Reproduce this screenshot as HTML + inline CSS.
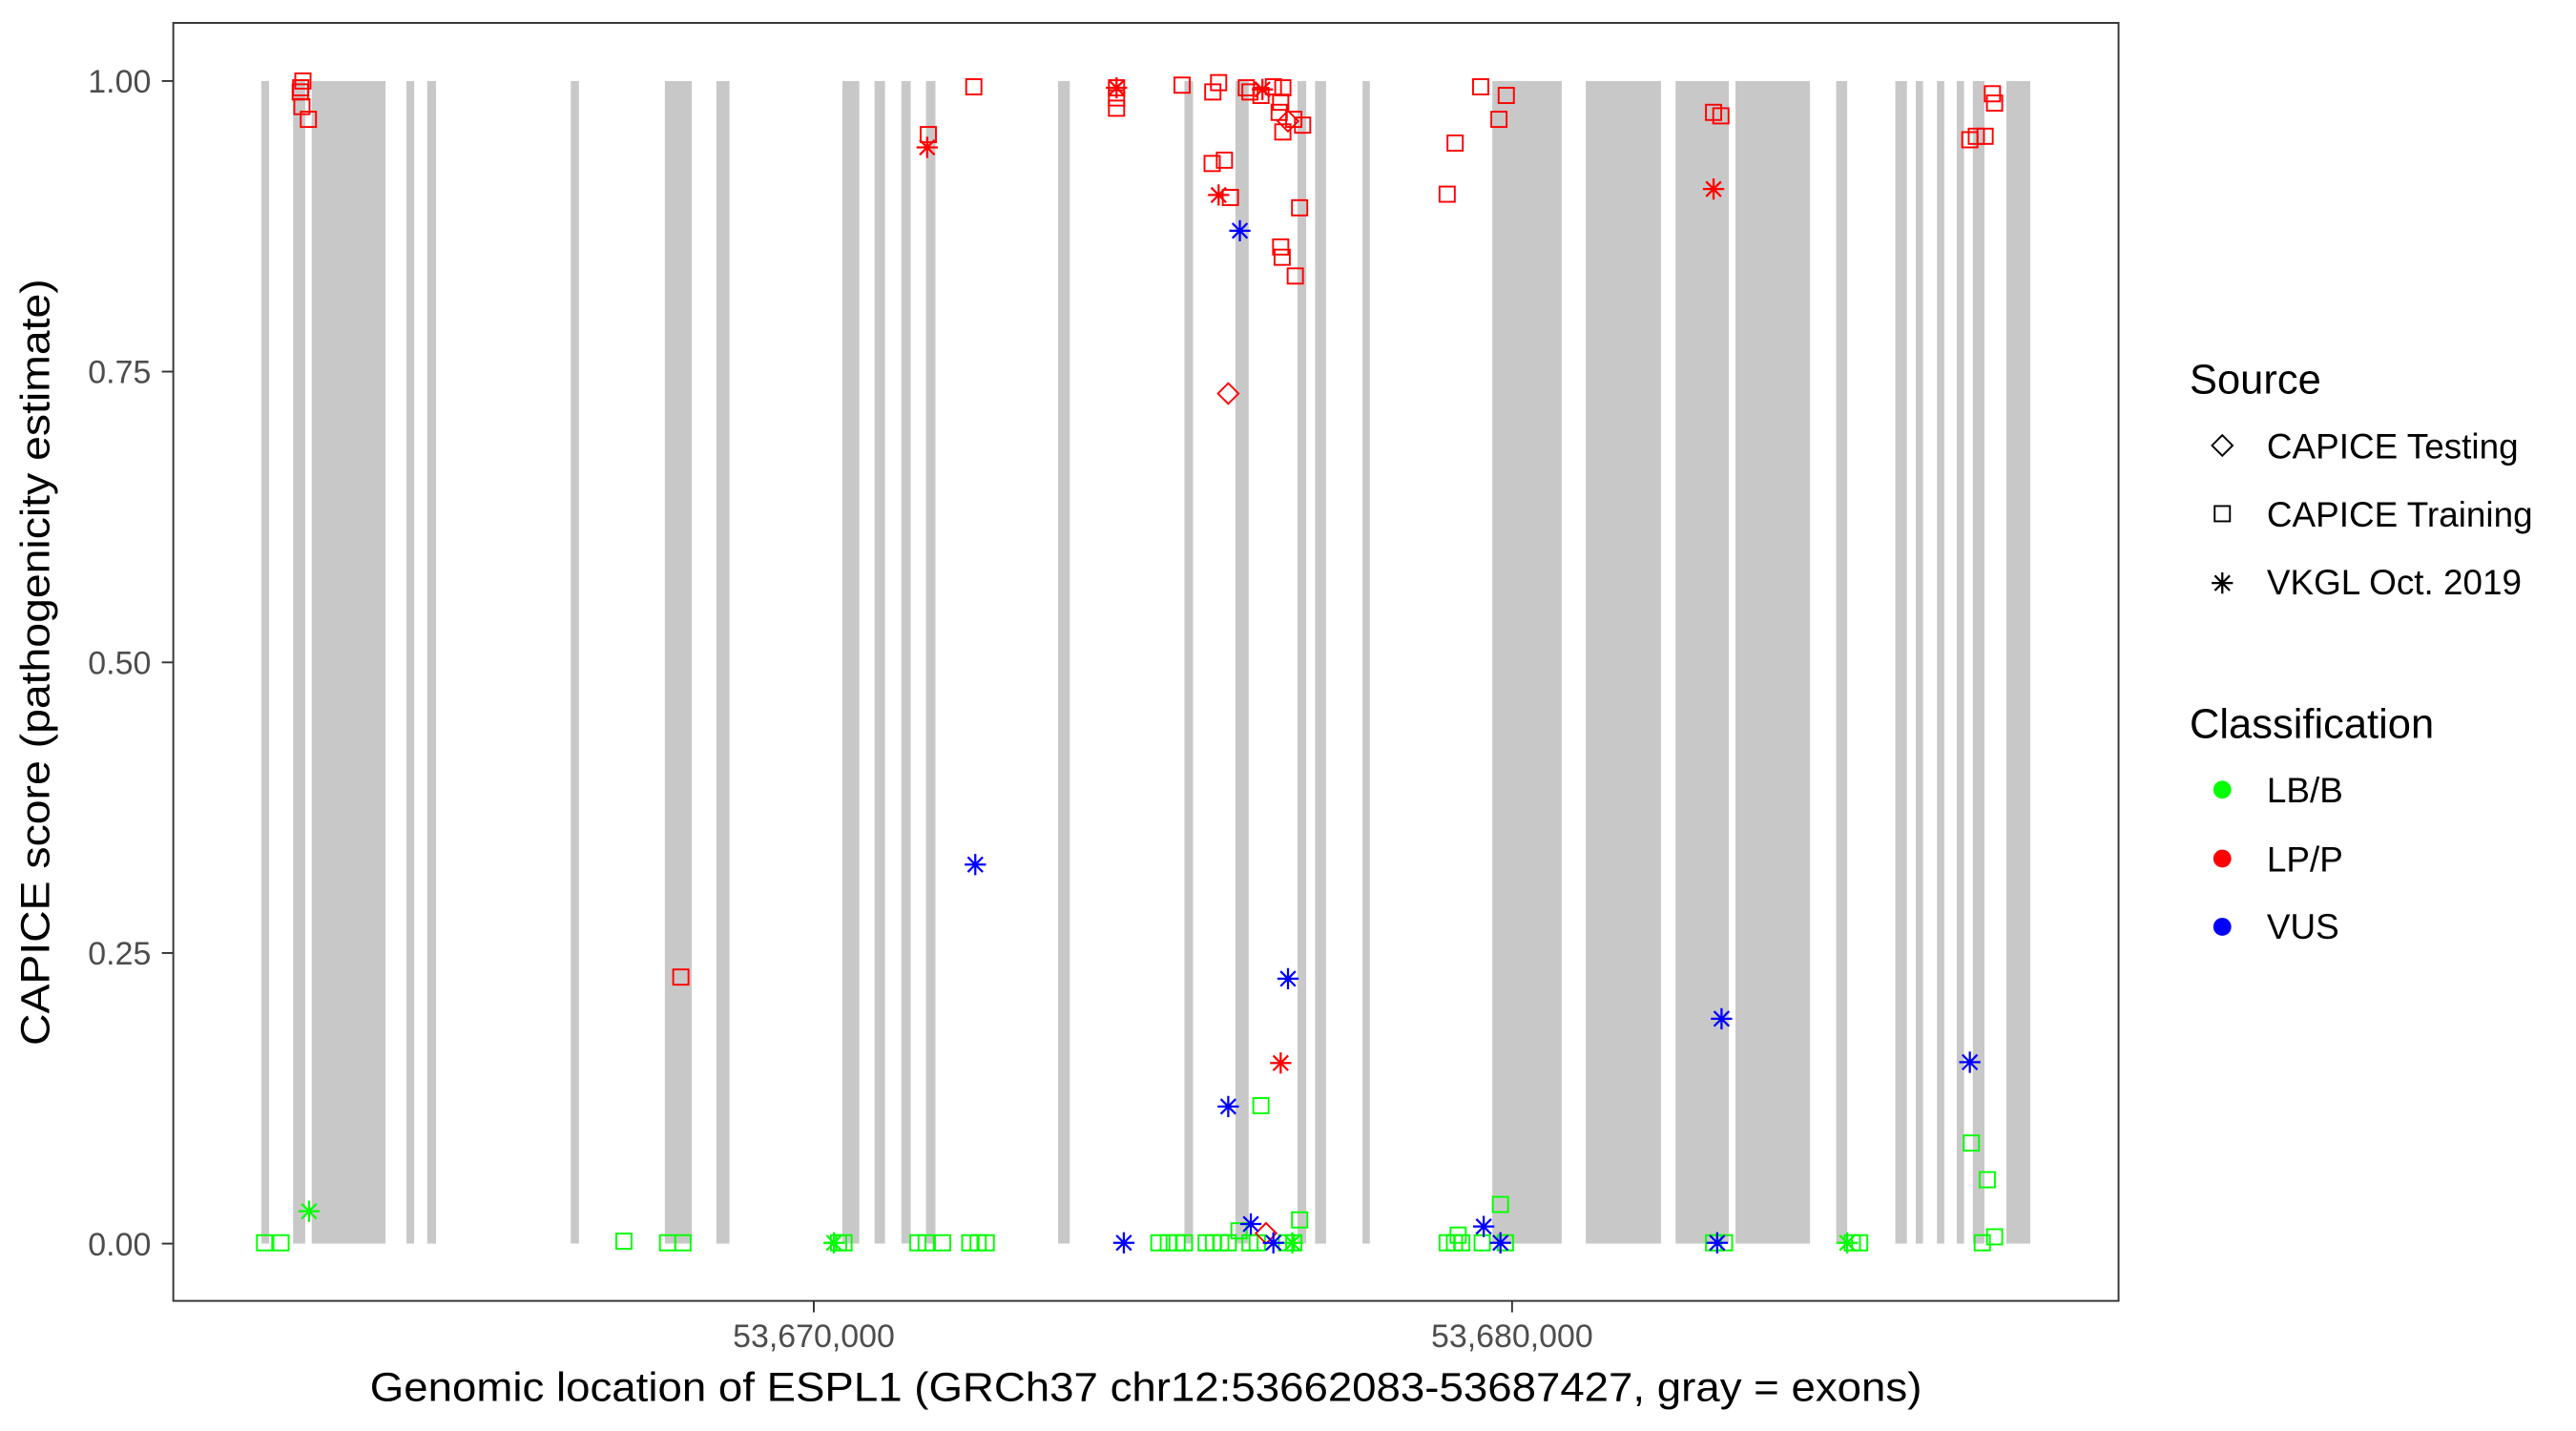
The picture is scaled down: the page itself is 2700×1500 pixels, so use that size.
<!DOCTYPE html>
<html><head><meta charset="utf-8"><style>
html,body{margin:0;padding:0;background:#fff}
svg{display:block}
text{font-family:"Liberation Sans",Arial,sans-serif}
</style></head><body>
<svg width="2700" height="1500" viewBox="0 0 1552 862.2" preserveAspectRatio="none" xmlns="http://www.w3.org/2000/svg">
<defs>
<rect id="s" x="-4.6" y="-4.6" width="9.2" height="9.2" fill="none" stroke-width="1.1"/>
<path id="a" d="M-6.4,0H6.4M0,-6.4V6.4M-4.5,-4.5L4.5,4.5M-4.5,4.5L4.5,-4.5" fill="none" stroke-width="1.3"/>
<polygon id="d" points="0,-6.2 6.2,0 0,6.2 -6.2,0" fill="none" stroke-width="1.1"/>
</defs>
<rect x="0" y="0" width="1552" height="862.2" fill="#fff"/>
<g fill="#C8C8C8">
<rect x="157.5" y="48.8" width="4.6" height="700.5"/>
<rect x="176.6" y="48.8" width="7.3" height="700.5"/>
<rect x="187.8" y="48.8" width="44.5" height="700.5"/>
<rect x="244.9" y="48.8" width="4.6" height="700.5"/>
<rect x="257.4" y="48.8" width="5.3" height="700.5"/>
<rect x="343.9" y="48.8" width="4.9" height="700.5"/>
<rect x="400.6" y="48.8" width="16.2" height="700.5"/>
<rect x="431.6" y="48.8" width="7.9" height="700.5"/>
<rect x="507.5" y="48.8" width="10.2" height="700.5"/>
<rect x="526.9" y="48.8" width="6.3" height="700.5"/>
<rect x="543.1" y="48.8" width="5.6" height="700.5"/>
<rect x="557.9" y="48.8" width="5.7" height="700.5"/>
<rect x="637.5" y="48.8" width="7" height="700.5"/>
<rect x="713.6" y="48.8" width="5.2" height="700.5"/>
<rect x="744.3" y="48.8" width="8" height="700.5"/>
<rect x="781.7" y="48.8" width="5.3" height="700.5"/>
<rect x="792.3" y="48.8" width="6.6" height="700.5"/>
<rect x="820.9" y="48.8" width="4.4" height="700.5"/>
<rect x="899.1" y="48.8" width="41.8" height="700.5"/>
<rect x="955.4" y="48.8" width="45.3" height="700.5"/>
<rect x="1009.5" y="48.8" width="32.1" height="700.5"/>
<rect x="1045.6" y="48.8" width="44.9" height="700.5"/>
<rect x="1106.3" y="48.8" width="6.6" height="700.5"/>
<rect x="1141.9" y="48.8" width="7" height="700.5"/>
<rect x="1154.2" y="48.8" width="4.4" height="700.5"/>
<rect x="1167" y="48.8" width="4.4" height="700.5"/>
<rect x="1178.9" y="48.8" width="4.4" height="700.5"/>
<rect x="1188.6" y="48.8" width="7" height="700.5"/>
<rect x="1208.8" y="48.8" width="14.4" height="700.5"/>
</g>
<g stroke="#00FF00">
<use href="#s" x="159.4" y="748.8"/><use href="#s" x="169.3" y="748.8"/>
<use href="#a" x="186.2" y="729.8"/>
<use href="#s" x="375.9" y="747.8"/><use href="#s" x="402.2" y="748.8"/><use href="#s" x="411.5" y="748.8"/>
<use href="#a" x="502.5" y="748.8"/><use href="#s" x="505.2" y="748.8"/><use href="#s" x="508.5" y="748.8"/>
<use href="#s" x="553" y="748.8"/><use href="#s" x="558" y="748.8"/><use href="#s" x="567.9" y="748.8"/>
<use href="#s" x="584.3" y="748.8"/><use href="#s" x="589.3" y="748.8"/><use href="#s" x="594.2" y="748.8"/>
<use href="#s" x="759.7" y="666.2"/>
<use href="#s" x="1187.7" y="688.7"/><use href="#s" x="1197.3" y="710.8"/><use href="#s" x="1194.3" y="748.8"/><use href="#s" x="1201.7" y="745.2"/>
<use href="#s" x="698.2" y="748.8"/><use href="#s" x="703.9" y="748.8"/><use href="#s" x="709.2" y="748.8"/><use href="#s" x="713.6" y="748.8"/>
<use href="#s" x="726.7" y="748.8"/><use href="#s" x="731.1" y="748.8"/><use href="#s" x="735.5" y="748.8"/><use href="#s" x="740" y="748.8"/>
<use href="#s" x="783" y="735"/><use href="#s" x="746.5" y="741.6"/>
<use href="#s" x="753.1" y="748.8"/><use href="#s" x="757.5" y="748.8"/><use href="#s" x="775.1" y="748.8"/><use href="#s" x="779.5" y="748.8"/><use href="#a" x="778.6" y="748.8"/>
<use href="#s" x="871.9" y="748.8"/><use href="#s" x="876.3" y="748.8"/><use href="#s" x="880.7" y="748.8"/><use href="#s" x="878.5" y="744.2"/>
<use href="#s" x="904" y="725.7"/><use href="#s" x="893" y="748.8"/><use href="#s" x="907" y="748.8"/>
<use href="#s" x="1032.4" y="748.8"/><use href="#s" x="1039" y="748.8"/>
<use href="#a" x="1112.9" y="748.8"/><use href="#s" x="1116" y="748.8"/><use href="#s" x="1120.4" y="748.8"/>
</g>
<g stroke="#FF0000">
<use href="#s" x="182.5" y="48.8"/><use href="#s" x="181.2" y="52.9"/><use href="#s" x="180.9" y="55.4"/><use href="#s" x="181.9" y="64.2"/><use href="#s" x="185.8" y="71.9"/>
<use href="#s" x="410.2" y="588.7"/>
<use href="#s" x="559.3" y="81.1"/><use href="#a" x="558.6" y="88.8"/>
<use href="#s" x="586.7" y="52.3"/>
<use href="#a" x="672.7" y="52.9"/><use href="#s" x="672.7" y="52.9"/><use href="#s" x="672.7" y="59"/><use href="#s" x="672.7" y="65.2"/>
<use href="#s" x="712.2" y="51.3"/><use href="#s" x="734.2" y="49.8"/><use href="#s" x="730.7" y="55.4"/>
<use href="#s" x="750.9" y="52.9"/><use href="#s" x="753.1" y="55.4"/><use href="#a" x="760.6" y="53.9"/>
<use href="#s" x="767.2" y="52.3"/><use href="#s" x="772.9" y="52.9"/><use href="#s" x="759.7" y="57.5"/>
<use href="#s" x="771.6" y="61.6"/><use href="#s" x="770.7" y="67.7"/><use href="#s" x="779.5" y="71.9"/><use href="#d" x="776" y="73"/>
<use href="#s" x="784.8" y="75.4"/><use href="#s" x="772.9" y="79.5"/>
<use href="#s" x="730.3" y="98.5"/><use href="#s" x="737.7" y="96.5"/>
<use href="#a" x="734.2" y="117.5"/><use href="#s" x="741.3" y="119"/>
<use href="#s" x="783" y="125.2"/><use href="#s" x="771.6" y="148.8"/><use href="#s" x="772.5" y="155"/><use href="#s" x="780.4" y="166.3"/>
<use href="#d" x="740" y="237.1"/>
<use href="#s" x="892.1" y="52.3"/><use href="#s" x="907.5" y="57.5"/><use href="#s" x="903.1" y="71.9"/><use href="#s" x="876.7" y="86.2"/><use href="#s" x="871.9" y="117"/>
<use href="#s" x="1032.4" y="67.7"/><use href="#s" x="1036.8" y="69.8"/><use href="#a" x="1032.4" y="113.9"/>
<use href="#s" x="1200.4" y="56.5"/><use href="#s" x="1201.7" y="62.1"/><use href="#s" x="1186.8" y="84.2"/><use href="#s" x="1190.7" y="82.1"/><use href="#s" x="1196" y="82.1"/>
<use href="#a" x="771.6" y="640.5"/>
<use href="#d" x="762.8" y="743.1"/>
</g>
<g stroke="#0000FF">
<use href="#a" x="587.6" y="520.9"/>
<use href="#a" x="747" y="139"/>
<use href="#a" x="776" y="589.7"/><use href="#a" x="740" y="666.7"/>
<use href="#a" x="1037.2" y="613.8"/><use href="#a" x="1186.8" y="640"/>
<use href="#a" x="677.1" y="748.8"/><use href="#a" x="753.6" y="737.5"/><use href="#a" x="767.2" y="748.8"/>
<use href="#a" x="893.9" y="739"/><use href="#a" x="904" y="748.8"/>
<use href="#a" x="1034.6" y="748.8"/>
</g>
<rect x="104.4" y="13.8" width="1172" height="770" fill="none" stroke="#333" stroke-width="1.1"/>
<g stroke="#333" stroke-width="1.1">
<line x1="97.5" x2="104.4" y1="48.8" y2="48.8"/>
<line x1="97.5" x2="104.4" y1="223.9" y2="223.9"/>
<line x1="97.5" x2="104.4" y1="399.1" y2="399.1"/>
<line x1="97.5" x2="104.4" y1="574.2" y2="574.2"/>
<line x1="97.5" x2="104.4" y1="749.3" y2="749.3"/>
<line x1="490.3" x2="490.3" y1="783.8" y2="790.7"/>
<line x1="911" x2="911" y1="783.8" y2="790.7"/>
</g>
<g fill="#4D4D4D" font-size="19.5" text-anchor="end">
<text x="91" y="55.8">1.00</text>
<text x="91" y="230.9">0.75</text>
<text x="91" y="406.1">0.50</text>
<text x="91" y="581.2">0.25</text>
<text x="91" y="756.3">0.00</text>
</g>
<g fill="#4D4D4D" font-size="19.5" text-anchor="middle">
<text x="490.3" y="811.5">53,670,000</text>
<text x="911" y="811.5">53,680,000</text>
</g>
<text x="690.4" y="844" font-size="24.5" text-anchor="middle" textLength="935" lengthAdjust="spacingAndGlyphs">Genomic location of ESPL1 (GRCh37 chr12:53662083-53687427, gray = exons)</text>
<text transform="translate(29.5,399) rotate(-90)" font-size="24.5" text-anchor="middle" textLength="462" lengthAdjust="spacingAndGlyphs">CAPICE score (pathogenicity estimate)</text>
<text x="1319.2" y="237.1" font-size="25">Source</text>
<use href="#d" x="1338.9" y="268.4" stroke="#000"/>
<use href="#s" x="1338.9" y="309.5" stroke="#000"/>
<use href="#a" x="1338.9" y="351.3" stroke="#000"/>
<g font-size="21.2">
<text x="1365.7" y="276.1">CAPICE Testing</text>
<text x="1365.7" y="317.2">CAPICE Training</text>
<text x="1365.7" y="358.2">VKGL Oct. 2019</text>
</g>
<text x="1319.2" y="444.5" font-size="25">Classification</text>
<circle cx="1338.9" cy="475.8" r="5.4" fill="#00FF00"/>
<circle cx="1338.9" cy="517.3" r="5.4" fill="#FF0000"/>
<circle cx="1338.9" cy="558.4" r="5.4" fill="#0000FF"/>
<g font-size="21.2">
<text x="1365.7" y="483.5">LB/B</text>
<text x="1365.7" y="525">LP/P</text>
<text x="1365.7" y="565.6">VUS</text>
</g>
</svg>
</body></html>
